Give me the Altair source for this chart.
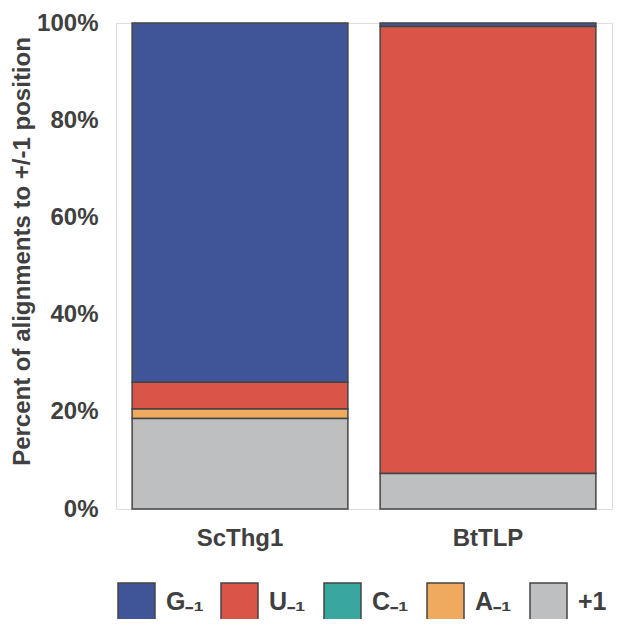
import altair as alt
import pandas as pd

samples = ["ScThg1", "BtTLP"]
categories = ["G", "U", "C", "A", "+1"]
legend_labels = ["G₋₁", "U₋₁", "C₋₁", "A₋₁", "+1"]
colors = ["#3F5597", "#D85548", "#3AA6A0", "#F0AA5D", "#BEBFC1"]
stack_order = [5, 4, 3, 2, 1]  # +1 at bottom, G on top

scthg1_values = [73.9, 5.5, 0.0, 2.0, 18.6]
bttlp_values = [0.7, 92.0, 0.0, 0.0, 7.3]

rows = []
for s, vals in zip(samples, [scthg1_values, bttlp_values]):
    for c, v, o, lab in zip(categories, vals, stack_order, legend_labels):
        if v > 0:
            rows.append({"sample": s, "cat": lab, "value": v / 100.0, "ord": o})
df = pd.DataFrame(rows)

text_color = "#404040"
font = "Liberation Sans"

chart = alt.Chart(df).mark_bar(stroke="#444444", strokeWidth=1.5).encode(
    x=alt.X("sample:N", sort=samples, title=None,
            scale=alt.Scale(paddingInner=0.13, paddingOuter=0.065),
            axis=alt.Axis(labelAngle=0, labelFont=font, labelFontSize=24,
                          labelFontWeight="bold", labelColor=text_color,
                          labelPadding=17, ticks=False, domain=False)),
    y=alt.Y("value:Q", stack="zero", title="Percent of alignments to +/-1 position",
            scale=alt.Scale(domain=[0, 1], nice=False),
            axis=alt.Axis(format="%", values=[0, 0.2, 0.4, 0.6, 0.8, 1.0],
                          labelFont=font, labelFontSize=24, labelFontWeight="bold",
                          labelColor=text_color, labelPadding=18, ticks=False,
                          domain=False, grid=False,
                          titleFont=font, titleFontSize=24, titleFontWeight="bold",
                          titleColor=text_color, titlePadding=2, titleY=228)),
    color=alt.Color("cat:N", scale=alt.Scale(domain=legend_labels, range=colors),
                    legend=alt.Legend(title=None, orient="none", legendX=1, legendY=559,
                                      direction="horizontal", columns=5, gridAlign="all",
                                      symbolType="square", symbolSize=1369,
                                      symbolStrokeColor="#444444", symbolStrokeWidth=1.5,
                                      symbolOpacity=1,
                                      labelFont=font, labelFontSize=25,
                                      labelFontWeight="bold", labelColor=text_color,
                                      labelOffset=10, columnPadding=14)),
    order=alt.Order("ord:Q", sort="ascending"),
).properties(
    width=496, height=486,
    autosize=alt.AutoSizeParams(type="none"),
    padding={"left": 108, "top": 15, "right": 2, "bottom": 110},
).configure_view(stroke="#555555", strokeWidth=2).configure(background="white")

chart.save("out.html", embed_options={"renderer": "svg", "actions": False})
